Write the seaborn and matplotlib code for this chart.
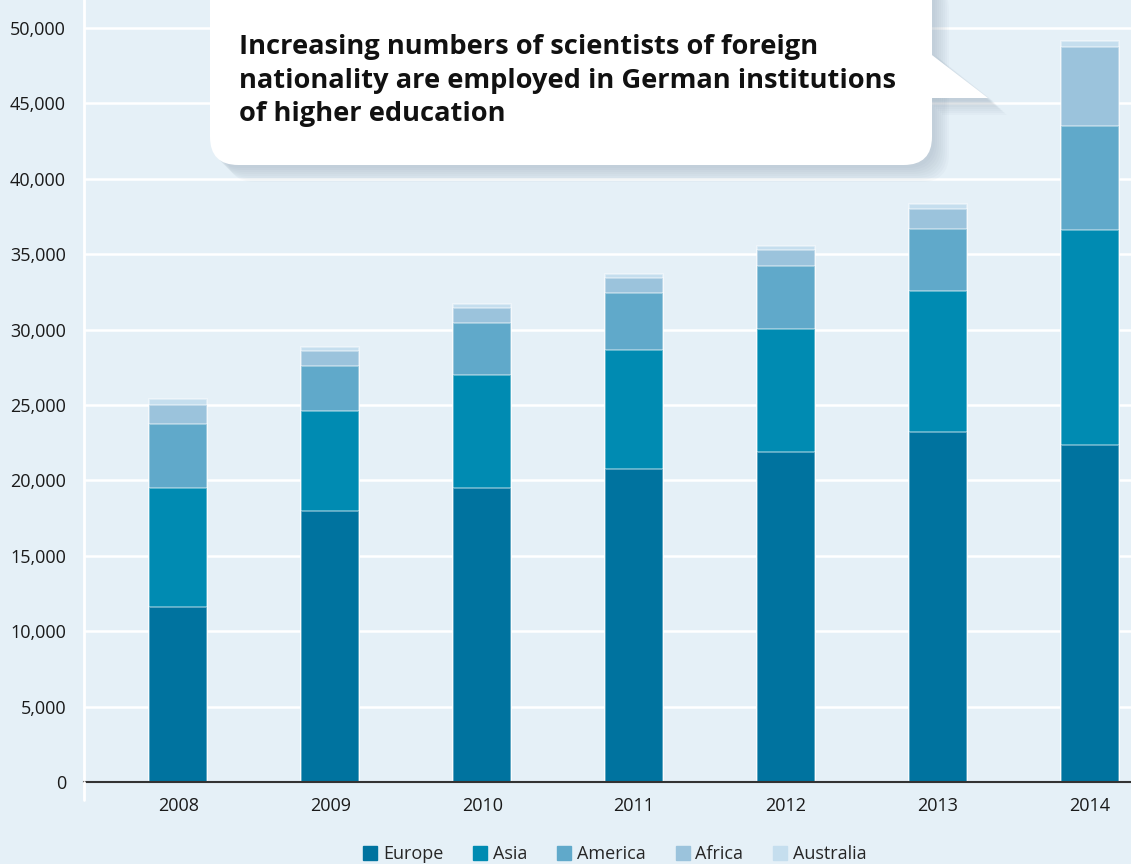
import matplotlib.pyplot as plt
import pandas as pd
import seaborn as sns
from matplotlib.lines import Line2D
from matplotlib.patches import FancyBboxPatch, Polygon

years = ["2008", "2009", "2010", "2011", "2012", "2013", "2014"]
regions = ["Europe", "Asia", "America", "Africa", "Australia"]
europe = [11600, 18000, 19500, 20750, 21880, 23200, 22340]
asia = [7900, 6600, 7480, 7890, 8150, 9350, 14260]
america = [4270, 3000, 3450, 3760, 4180, 4110, 6890]
africa = [1260, 1000, 1000, 1000, 1040, 1330, 5260]
australia = [400, 260, 260, 280, 290, 330, 400]

colors = ["#00739f", "#008bb2", "#60a9ca", "#9bc3dc", "#c5deee"]
bg = "#e5f0f7"

df = pd.DataFrame({"year": years, "Europe": europe, "Asia": asia,
                   "America": america, "Africa": africa, "Australia": australia})
cum = df[regions].cumsum(axis=1)
cum["year"] = df["year"]

sns.set_style("white")
plt.rcParams["font.family"] = ["Open Sans", "DejaVu Sans"]

W, H = 1131, 864
fig = plt.figure(figsize=(W / 100, H / 100), dpi=100, facecolor=bg)
ax = fig.add_axes([84 / W, (H - 782) / H, 1 - 84 / W, 782 / H])
ax.set_facecolor(bg)
ax.set_axisbelow(True)

# stacked bars: draw cumulative totals from top segment down
for reg, col in reversed(list(zip(regions, colors))):
    sns.barplot(data=cum, x="year", y=reg, color=col, saturation=1,
                width=0.38, edgecolor=(1, 1, 1, 0.45), linewidth=1.2, ax=ax)

ax.set_xlim(-0.62, 6.27)
ax.set_ylim(0, 51860)
ax.set_yticks(range(0, 50001, 5000))
ax.set_yticklabels([f"{v:,}" for v in range(0, 50001, 5000)])
ax.yaxis.grid(True, color="white", linewidth=1.8)
ax.set_xlabel("")
ax.set_ylabel("")

for s in ["top", "right"]:
    ax.spines[s].set_visible(False)
ax.spines["left"].set_color("white")
ax.spines["left"].set_linewidth(2)
ax.spines["bottom"].set_color("#333333")
ax.spines["bottom"].set_linewidth(1.5)

ax.tick_params(axis="y", length=8, width=1.8, color="white",
               labelsize=13, labelcolor="#1a1a1a", pad=5)
ax.tick_params(axis="x", length=0, labelsize=13, labelcolor="#1a1a1a", pad=11)
ax.set_xticks([i + 0.5 for i in range(6)], minor=True)
ax.tick_params(axis="x", which="minor", direction="in", length=7,
               width=1, color="#777777")

# white axis line extends a bit below the baseline
fig.add_artist(Line2D([84 / W, 84 / W], [(H - 800) / H, (H - 782) / H],
                      color="white", linewidth=2))

# legend
handles = [Line2D([], [], marker="s", linestyle="", markersize=10,
                  markerfacecolor=c, markeredgecolor=c) for c in colors]
fig.legend(handles, regions, loc="center", bbox_to_anchor=(614 / W, (H - 854) / H),
           ncol=5, frameon=False, fontsize=13, handletextpad=0.2,
           columnspacing=1.55, handlelength=1.0)

# callout box with shadow
def fx(x):
    return x / W


def fy(y):
    return (H - y) / H


for k in range(8):
    off = 3 + k * 2
    sh = FancyBboxPatch((fx(210 + off), fy(165 + off)), fx(722), fy(0) - fy(200),
                        boxstyle="round,pad=0,rounding_size=0.025",
                        transform=fig.transFigure, facecolor="#7a8ea0",
                        edgecolor="none", alpha=0.045, mutation_aspect=W / H)
    fig.add_artist(sh)
    tsh = Polygon([(fx(932 + off), fy(52 + off)), (fx(990 + off), fy(98 + off)),
                   (fx(925 + off), fy(98 + off))], closed=True,
                  transform=fig.transFigure, facecolor="#7a8ea0",
                  edgecolor="none", alpha=0.045)
    fig.add_artist(tsh)

box = FancyBboxPatch((fx(210), fy(165)), fx(722), fy(0) - fy(200),
                     boxstyle="round,pad=0,rounding_size=0.025",
                     transform=fig.transFigure, facecolor="white",
                     edgecolor="none", mutation_aspect=W / H)
fig.add_artist(box)
tail = Polygon([(fx(928), fy(52)), (fx(988), fy(98)), (fx(928), fy(98))],
               closed=True, transform=fig.transFigure, facecolor="white",
               edgecolor="none")
fig.add_artist(tail)

fig.text(fx(239), fy(34),
         "Increasing numbers of scientists of foreign\n"
         "nationality are employed in German institutions\n"
         "of higher education",
         ha="left", va="top", fontsize=19.6, fontweight="bold",
         color="#111111", linespacing=1.38)

fig.savefig("out.png", dpi=100, facecolor=bg)
